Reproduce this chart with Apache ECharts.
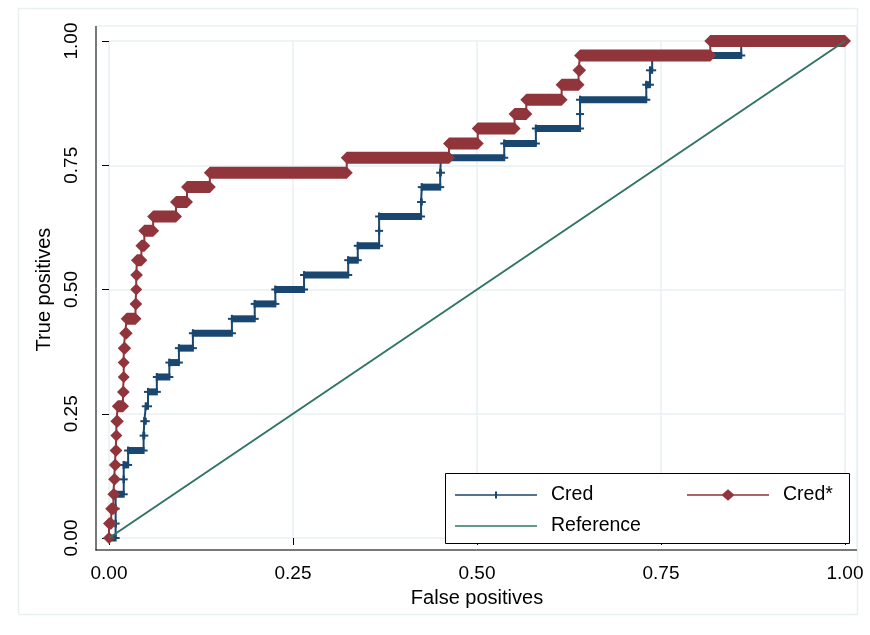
<!DOCTYPE html>
<html><head><meta charset="utf-8">
<script src="https://cdn.jsdelivr.net/npm/echarts@6/dist/echarts.min.js"></script>
<style>html,body{margin:0;padding:0;background:#fff}#c{width:870px;height:635px}</style>
</head><body><div id="c"></div>
<script>
// ---- data ----
const xTicks = [0, 0.25, 0.5, 0.75, 1];
const yTicks = [0, 0.25, 0.5, 0.75, 1];
// true-positive levels (k / 34 positives)
const tprLevels = [0.000, 0.029, 0.059, 0.088, 0.118, 0.147, 0.176, 0.206, 0.235, 0.265,
  0.294, 0.324, 0.353, 0.382, 0.412, 0.441, 0.471, 0.500, 0.529, 0.559, 0.588, 0.618,
  0.647, 0.676, 0.706, 0.735, 0.765, 0.794, 0.824, 0.853, 0.882, 0.912, 0.941, 0.971, 1.000];
// false-positive rate at which each level is left (end of the horizontal run)
const credFprEnd = [0.009, 0.009, 0.009, 0.020, 0.020, 0.026, 0.047, 0.048, 0.050, 0.053,
  0.065, 0.082, 0.095, 0.114, 0.167, 0.198, 0.226, 0.265, 0.325, 0.338, 0.367, 0.367,
  0.424, 0.425, 0.450, 0.451, 0.537, 0.580, 0.640, 0.640, 0.730, 0.735, 0.738, 0.859, 1.000];
const credStarFprEnd = [0.000, 0.003, 0.006, 0.007, 0.008, 0.009, 0.010, 0.010, 0.012, 0.019,
  0.020, 0.020, 0.020, 0.022, 0.024, 0.036, 0.037, 0.037, 0.038, 0.044, 0.048, 0.060,
  0.091, 0.106, 0.137, 0.323, 0.462, 0.501, 0.551, 0.567, 0.615, 0.638, 0.640, 0.817, 1.000];
const referenceX = [0, 1];
const referenceY = [0, 1];
const seriesNames = ['Cred', 'Cred*', 'Reference'];

// ---- styles ----
const C_CRED = '#1a476f', C_STAR = '#90353b', C_REF = '#2f7566';
const FONT = 'Liberation Sans, Arial, Helvetica, sans-serif';
const GRIDC = '#e9f0f2';

function runs(ends) {
  return ends.map((e, k) => [k === 0 ? 0 : ends[k - 1], e, tprLevels[k]]);
}
function stepPts(ends) {
  const out = [];
  runs(ends).forEach(r => { out.push([r[0], r[2]]); out.push([r[1], r[2]]); });
  return out;
}

const legendText = {fontFamily: FONT, fontSize: 19.5, color: '#000'};
const chart = echarts.init(document.getElementById('c'), null, {renderer: 'canvas'});
chart.setOption({
  animation: false,
  backgroundColor: '#fff',
  grid: {left: 109, right: 25, top: 41, bottom: 97, containLabel: false},
  xAxis: {
    type: 'value', min: xTicks[0], max: xTicks[xTicks.length - 1], interval: 0.25, offset: 12,
    name: 'False positives', nameLocation: 'middle', nameGap: 38,
    nameTextStyle: {fontFamily: FONT, fontSize: 20, color: '#000'},
    axisLine: {show: false},
    axisTick: {show: true, length: 7, lineStyle: {color: '#000', width: 1}},
    axisLabel: {fontFamily: FONT, fontSize: 19, color: '#000', margin: 14, formatter: v => v.toFixed(2)},
    splitLine: {show: true, lineStyle: {color: GRIDC, width: 1.5}}
  },
  yAxis: {
    type: 'value', min: yTicks[0], max: yTicks[yTicks.length - 1], interval: 0.25, offset: 13,
    name: 'True positives', nameLocation: 'middle', nameGap: 38,
    nameTextStyle: {fontFamily: FONT, fontSize: 20, color: '#000'},
    axisLine: {show: false},
    axisTick: {show: true, length: 7, lineStyle: {color: '#000', width: 1}},
    axisLabel: {fontFamily: FONT, fontSize: 19, color: '#000', margin: 15, rotate: 90, formatter: v => v.toFixed(2)},
    splitLine: {show: true, lineStyle: {color: GRIDC, width: 1.5}}
  },
  legend: [
    {orient: 'vertical', left: 455, top: 485, padding: 0, itemGap: 11, itemWidth: 91, itemHeight: 12,
     z: 60, itemStyle: {borderWidth: 0}, selectedMode: false, textStyle: legendText,
     data: [
       {name: seriesNames[0], icon: 'path://M0,0M91,12M0,5.2L82,5.2L82,6.8L0,6.8ZM40,2.5L42,2.5L42,9.5L40,9.5Z'},
       {name: seriesNames[2], icon: 'path://M0,0M91,12M0,5.2L82,5.2L82,6.8L0,6.8Z'}
     ]},
    {orient: 'vertical', left: 687, top: 485, padding: 0, itemGap: 11, itemWidth: 91, itemHeight: 12,
     z: 60, itemStyle: {borderWidth: 0}, selectedMode: false, textStyle: legendText,
     data: [
       {name: seriesNames[1], icon: 'path://M0,0M91,12M0,5.2L82,5.2L82,6.8L0,6.8ZM34.5,6L41,0.2L47.5,6L41,11.8Z'}
     ]}
  ],
  graphic: [
    {type: 'rect', z: -10, silent: true, shape: {x: 18.5, y: 8.5, width: 839, height: 606}, style: {fill: 'none', stroke: GRIDC, lineWidth: 1.5}},
    {type: 'rect', z: -10, silent: true, shape: {x: 96, y: 26, width: 761, height: 524}, style: {fill: 'none', stroke: GRIDC, lineWidth: 1.5}},
    {type: 'line', z: 50, silent: true, shape: {x1: 96, y1: 26, x2: 96, y2: 550.5}, style: {stroke: '#000', lineWidth: 1}},
    {type: 'line', z: 50, silent: true, shape: {x1: 95.5, y1: 550, x2: 857, y2: 550}, style: {stroke: '#000', lineWidth: 1}},
    {type: 'rect', z: 40, silent: true, shape: {x: 445.5, y: 473.5, width: 404, height: 70}, style: {fill: '#fff', stroke: '#000', lineWidth: 1}}
  ],
  series: [
    {name: seriesNames[0], type: 'line', data: stepPts(credFprEnd), symbol: 'none', z: 3,
     lineStyle: {color: C_CRED, width: 2}, itemStyle: {color: C_CRED}, clip: false},
    {name: seriesNames[0], type: 'custom', data: runs(credFprEnd), z: 3, clip: false,
     encode: {x: [0, 1], y: 2},
     renderItem: (params, api) => {
       const p0 = api.coord([api.value(0), api.value(2)]);
       const p1 = api.coord([api.value(1), api.value(2)]);
       return {type: 'group', children: [
         {type: 'rect', shape: {x: p0[0] - 1, y: p0[1] - 3.5, width: p1[0] - p0[0] + 2, height: 7}, style: {fill: C_CRED}},
         {type: 'line', shape: {x1: p0[0] - 4, y1: p0[1], x2: p1[0] + 4, y2: p1[1]}, style: {stroke: C_CRED, lineWidth: 2}},
         {type: 'line', shape: {x1: p0[0], y1: p0[1] - 4, x2: p0[0], y2: p0[1] + 4}, style: {stroke: C_CRED, lineWidth: 2}}
       ]};
     }},
    {name: seriesNames[1], type: 'line', data: stepPts(credStarFprEnd), symbol: 'none', z: 4,
     lineStyle: {color: C_STAR, width: 2}, itemStyle: {color: C_STAR}, clip: false},
    {name: seriesNames[1], type: 'custom', data: runs(credStarFprEnd), z: 4, clip: false,
     encode: {x: [0, 1], y: 2},
     renderItem: (params, api) => {
       const p0 = api.coord([api.value(0), api.value(2)]);
       const p1 = api.coord([api.value(1), api.value(2)]);
       const h = 6;
       return {type: 'polygon', shape: {points: [
         [p0[0] - h, p0[1]], [p0[0], p0[1] - h], [p1[0], p1[1] - h],
         [p1[0] + h, p1[1]], [p1[0], p1[1] + h], [p0[0], p0[1] + h]]},
         style: {fill: C_STAR}};
     }},
    {name: seriesNames[2], type: 'line', data: referenceX.map((x, i) => [x, referenceY[i]]), symbol: 'none', z: 5,
     lineStyle: {color: C_REF, width: 2}, itemStyle: {color: C_REF}}
  ]
});
</script>
</body></html>
